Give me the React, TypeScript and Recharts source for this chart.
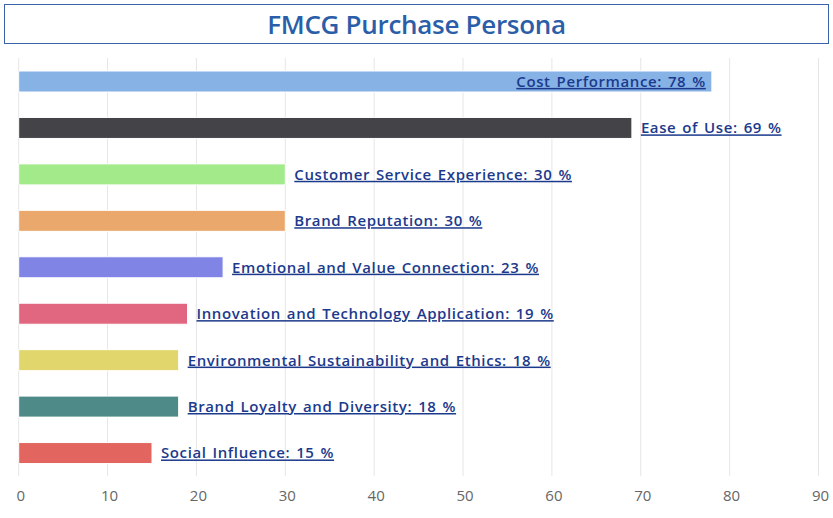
import React from "react";
import { BarChart, Bar, XAxis, YAxis, CartesianGrid, Cell, LabelList } from "recharts";

const categories = [
  "Cost Performance",
  "Ease of Use",
  "Customer Service Experience",
  "Brand Reputation",
  "Emotional and Value Connection",
  "Innovation and Technology Application",
  "Environmental Sustainability and Ethics",
  "Brand Loyalty and Diversity",
  "Social Influence",
];
const percentages = [78, 69, 30, 30, 23, 19, 18, 18, 15];
const barColors = [
  "#86b2e6",
  "#434348",
  "#a3ea8a",
  "#eba86c",
  "#8085e5",
  "#e0677f",
  "#e1d66c",
  "#4e8b88",
  "#e26560",
];
const xTicks = [0, 10, 20, 30, 40, 50, 60, 70, 80, 90];

const data = categories.map((name, i) => ({ name, value: percentages[i] }));

const W = 833;
const H = 518;
const PLOT_RIGHT = 818.5;
const LABEL_FONT = "'Open Sans', sans-serif";

const renderLabel = (props: any) => {
  const { x, y, width, height, index } = props;
  const d = data[index];
  const text = `${d.name}: ${d.value} %`;
  const estWidth = text.length * 8.3;
  const end = x + width;
  const inside = end + 9 + estWidth > PLOT_RIGHT;
  return (
    <text
      x={inside ? end - 6 : end + 9}
      y={y + height / 2}
      dy="0.36em"
      textAnchor={inside ? "end" : "start"}
      fill="#1c3a8c"
      fontFamily={LABEL_FONT}
      fontWeight={600}
      fontSize={15}
      letterSpacing={0.6}
      wordSpacing={1.5}
      textDecoration="underline"
      style={{ textDecoration: "underline" }}
    >
      {text}
    </text>
  );
};

export default function App() {
  return (
    <div style={{ position: "absolute", left: 0, top: 0, width: W, height: H, background: "#fff" }}>
      <div
        style={{
          position: "absolute",
          left: 4,
          top: 4,
          width: 825,
          height: 40,
          boxSizing: "border-box",
          border: "1.5px solid #3a64a8",
          display: "flex",
          alignItems: "center",
          justifyContent: "center",
          fontFamily: "'Open Sans', sans-serif",
          fontWeight: 600,
          fontSize: 26,
          color: "#2b5ea8",
          letterSpacing: -0.3,
        }}
      >
        FMCG Purchase Persona
      </div>
      <div style={{ position: "absolute", left: 0, top: 0 }}>
        <BarChart
          width={W}
          height={H}
          data={data}
          layout="vertical"
          margin={{ top: 58, right: W - PLOT_RIGHT, bottom: 12, left: 18.7 }}
          barCategoryGap={0}
        >
          <CartesianGrid horizontal={false} vertical={true} stroke="#e6e6e6" />
          <XAxis
            type="number"
            domain={[0, 90]}
            ticks={xTicks}
            axisLine={false}
            tickLine={false}
            height={30}
            tickMargin={8}
            tick={{ fill: "#666", fontSize: 15, fontFamily: "'Open Sans', sans-serif", dx: 2 }}
            interval={0}
          />
          <YAxis type="category" dataKey="name" hide />
          <Bar dataKey="value" barSize={21} isAnimationActive={false} stroke="#fff" strokeWidth={1}>
            {data.map((d, i) => (
              <Cell key={d.name} fill={barColors[i]} />
            ))}
            <LabelList dataKey="value" content={renderLabel} />
          </Bar>
        </BarChart>
      </div>
    </div>
  );
}
